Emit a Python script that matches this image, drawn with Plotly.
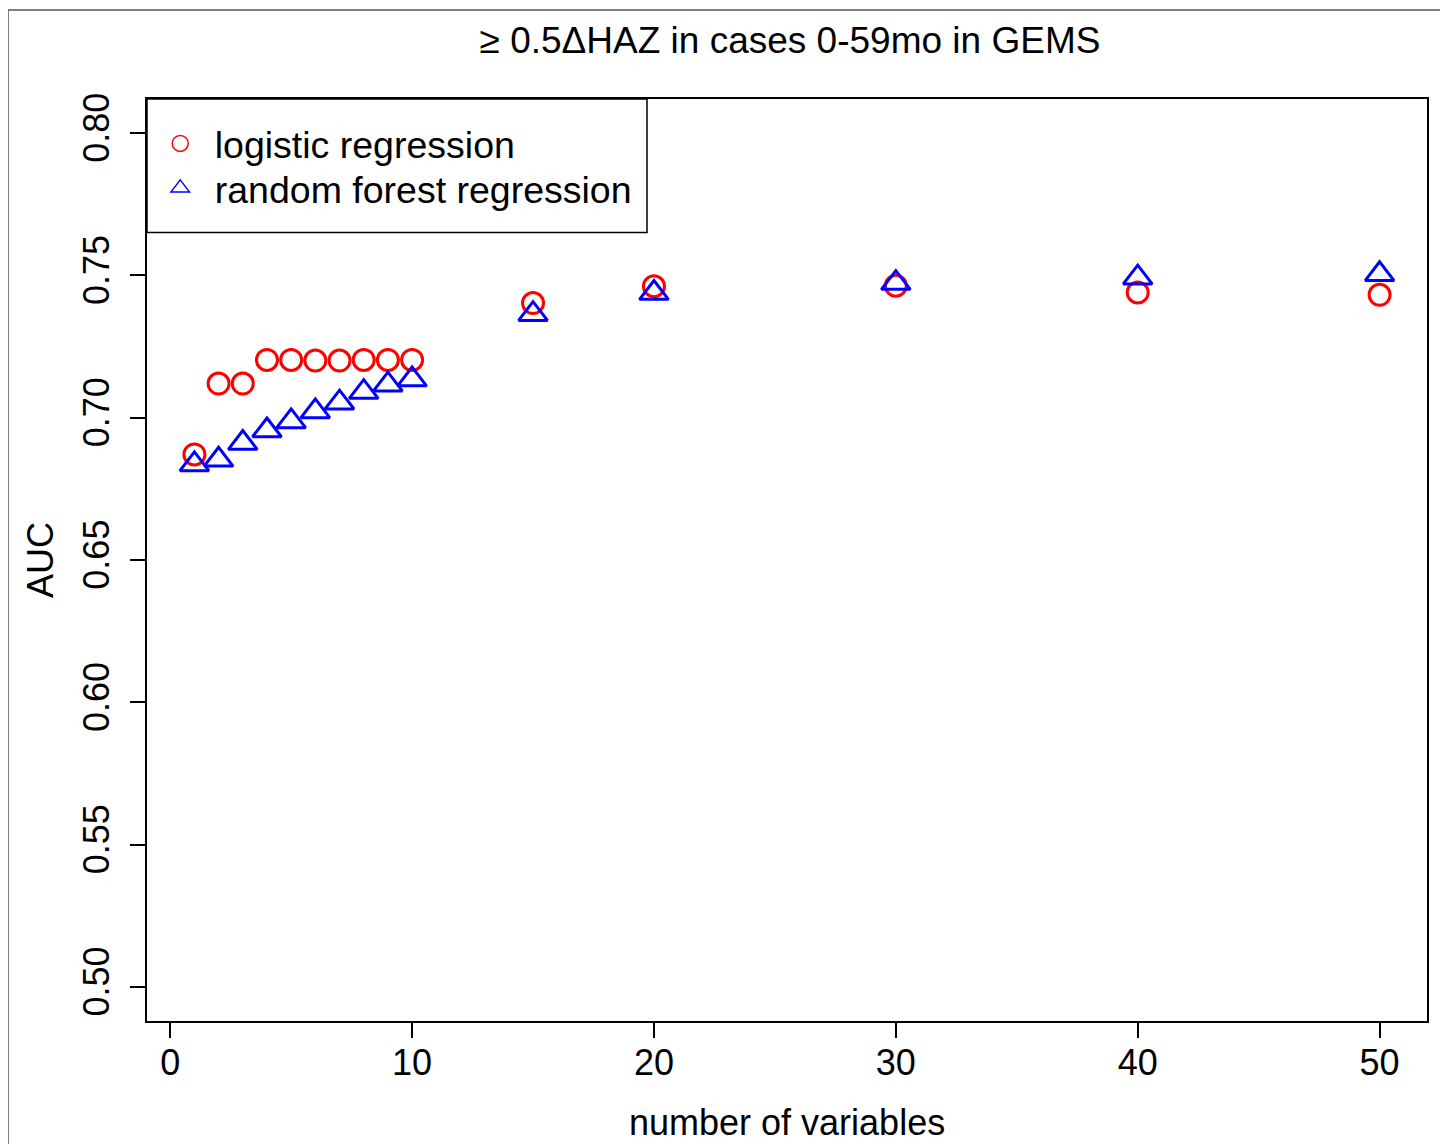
import plotly.graph_objects as go

# AUC by number of variables
n_vars = [1, 2, 3, 4, 5, 6, 7, 8, 9, 10, 15, 20, 30, 40, 50]
auc_logistic = [0.6871, 0.7120, 0.7120, 0.7203, 0.7203, 0.7201, 0.7201, 0.7203, 0.7203, 0.7203,
                0.7403, 0.7462, 0.7464, 0.7440, 0.7432]
auc_rf = [0.6836, 0.6852, 0.6911, 0.6955, 0.6987, 0.7022, 0.7053, 0.7090, 0.7116, 0.7134,
          0.7364, 0.7438, 0.7473, 0.7492, 0.7504]

x_ticks = [0, 10, 20, 30, 40, 50]
y_ticks = [0.50, 0.55, 0.60, 0.65, 0.70, 0.75, 0.80]

FONT = "Liberation Sans, Arial, sans-serif"
RED = "#FF0000"
BLUE = "#0000FF"

# plot area in page pixels (page body has an 8px margin)
PL, PR, PT, PB = 147, 1427, 99, 1021
PW, PH = PR - PL, PB - PT
W, H = 1440, 1136


def px_x(x):
    return (x - PL) / PW


def px_y(y):
    return (PB - y) / PH


fig = go.Figure()

fig.add_trace(go.Scatter(
    x=n_vars, y=auc_logistic, mode="markers", showlegend=False,
    marker=dict(symbol="circle-open", size=21, color=RED, line=dict(width=3, color=RED)),
))
fig.add_trace(go.Scatter(
    x=n_vars, y=auc_rf, mode="markers", showlegend=False,
    marker=dict(symbol="triangle-up-open", size=25, color=BLUE, line=dict(width=3, color=BLUE)),
))

# legend entries (thin outlines like the original), one legend per row
fig.add_trace(go.Scatter(
    x=[None], y=[None], mode="markers", name="logistic regression", legend="legend",
    marker=dict(symbol="circle-open", size=16, color=RED, line=dict(width=1.5, color=RED)),
))
fig.add_trace(go.Scatter(
    x=[None], y=[None], mode="markers", name="random forest regression", legend="legend2",
    marker=dict(symbol="triangle-up-open", size=16, color=BLUE, line=dict(width=1.5, color=BLUE)),
))

axis_common = dict(
    showgrid=False, zeroline=False,
    showline=True, linecolor="black", linewidth=1.5, mirror=True,
    ticks="outside", ticklen=15, tickwidth=1.5, tickcolor="black",
    tickfont=dict(family=FONT, size=36, color="black"),
)

fig.update_xaxes(range=[-0.96, 51.96], tickvals=x_ticks, ticklabelstandoff=-6, **axis_common)
fig.update_yaxes(range=[0.488, 0.812], tickvals=y_ticks, tickformat=".2f",
                 tickangle=-90, ticklabelstandoff=7, **axis_common)

legend_common = dict(
    xanchor="left", yanchor="middle", bgcolor="rgba(0,0,0,0)", borderwidth=0,
    itemwidth=59, font=dict(family=FONT, size=37.5, color="black"),
)

fig.update_layout(
    width=W, height=H, autosize=False,
    margin=dict(l=PL - 8, r=8 + W - PR, t=PT - 8, b=8 + H - PB),
    paper_bgcolor="white", plot_bgcolor="white",
    font=dict(family=FONT, size=36, color="black"),
    title=dict(text="\u2265 0.5\u0394HAZ in cases 0-59mo in GEMS",
               x=(790 - 8) / W, xanchor="center", y=1 - 32 / H, yanchor="middle",
               font=dict(family=FONT, size=37, color="black")),
    legend=dict(x=-0.001, y=px_y(143.5), **legend_common),
    legend2=dict(x=-0.001, y=px_y(188), **legend_common),
    annotations=[
        dict(text="number of variables", xref="paper", yref="paper", x=0.5, y=0,
             yshift=-101, xanchor="center", yanchor="middle", showarrow=False,
             font=dict(family=FONT, size=36, color="black")),
        dict(text="AUC", xref="paper", yref="paper", x=0, y=0.5, xshift=-107,
             textangle=-90, xanchor="center", yanchor="middle", showarrow=False,
             font=dict(family=FONT, size=36, color="black")),
    ],
    shapes=[
        # outer frame of the figure
        dict(type="rect", xref="paper", yref="paper",
             x0=px_x(8), x1=px_x(1443), y0=px_y(1160), y1=px_y(10),
             line=dict(color="#555555", width=1.5), layer="below"),
        # legend box
        dict(type="rect", xref="paper", yref="paper",
             x0=0, x1=px_x(647), y0=px_y(232.5), y1=1,
             line=dict(color="black", width=1.5)),
    ],
)

fig.write_html("out.html")
